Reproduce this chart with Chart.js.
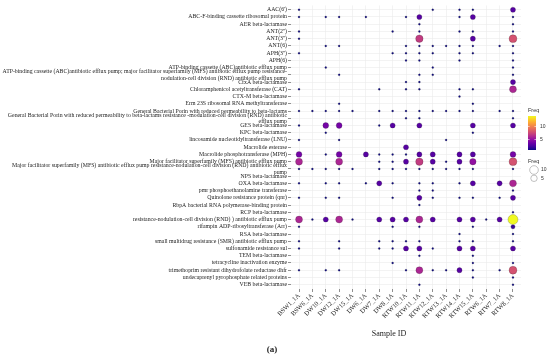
<!DOCTYPE html>
<html>
<head>
<meta charset="utf-8">
<script src="https://cdn.jsdelivr.net/npm/chart.js@4.4.1/dist/chart.umd.min.js"></script>
<style>
  html, body { margin: 0; padding: 0; background: #fff; }
  canvas { display: block; }
</style>
</head>
<body>
<canvas id="chart" width="550" height="359"></canvas>
<script>
const samples = ['BSW1_1A', 'BSW6_1A', 'DW10_1A', 'DW12_1A', 'DW15_1A', 'DW6_1A', 'DW7_1A', 'DW8_1A',
  'RTW10_1A', 'RTW11_1A', 'RTW12_1A', 'RTW13_1A', 'RTW14_1A', 'RTW15_1A', 'RTW6_1A', 'RTW7_1A', 'RTW8_1A'];

const genes = [
  "AAC(6')",
  'ABC-F-binding cassette ribosomal protein',
  'AER beta-lactamase',
  "ANT(2'')",
  "ANT(3'')",
  'ANT(6)',
  "APH(3'')",
  'APH(6)',
  'ATP-binding cassette (ABC)antibiotic efflux pump',
  ['ATP-binding cassette (ABC)antibiotic efflux pump; major facilitator superfamily (MFS) antibiotic efflux pump resistance-',
   'nodulation-cell division (RND) antibiotic efflux pump'],
  'CfxA beta-lactamase',
  'Chloramphenicol acetyltransferase (CAT)',
  'CTX-M beta-lactamase',
  'Erm 23S ribosomal RNA methyltransferase',
  'General Bacterial Porin with reduced permeability to beta-lactams',
  ['General Bacterial Porin with reduced permeability to beta-lactams resistance -modulation-cell division (RND) antibiotic',
   'efflux pump'],
  'GES beta-lactamase',
  'KPC beta-lactamase',
  'lincosamide nucleotidyltransferase (LNU)',
  'Macrolide esterase',
  'Macrolide phosphotransferase (MPH)',
  'Major facilitator superfamily (MFS) antibiotic efflux pump',
  ['Major facilitator superfamily (MFS) antibiotic efflux pump resistance-nodulation-cell division (RND) antibiotic efflux',
   'pump'],
  'NPS beta-lactamase',
  'OXA beta-lactamase',
  'pmr phosphoethanolamine transferase',
  'Quinolone resistance protein (qnr)',
  'RbpA bacterial RNA polymerase-binding protein',
  'RCP beta-lactamase',
  'resistance-nodulation-cell division (RND) ) antibiotic efflux pump',
  'rifampin ADP-ribosyltransferase (Arr)',
  'RSA beta-lactamase',
  'small multidrug resistance (SMR) antibiotic efflux pump',
  'sulfonamide resistance sul',
  'TEM beta-lactamase',
  'tetracycline inactivation enzyme',
  'trimethoprim resistant dihydrofolate reductase dhfr',
  'undecaprenyl pyrophosphate related proteins',
  'VEB beta-lactamase'
];

// Freq for each gene (row) in each sample (column order = samples), 0 = absent
const freq = [
  [1,0,0,0,0,0,0,0,0,0,1,0,1,1,0,0,3],
  [1,0,1,1,0,1,0,0,1,3,0,0,1,3,0,0,1],
  [0,0,0,0,0,0,0,0,0,1,0,0,0,0,0,0,1],
  [1,0,0,0,0,0,0,1,0,1,0,0,1,1,0,0,1],
  [1,0,0,0,0,0,0,0,0,7,0,0,0,3,0,0,8],
  [0,0,1,1,0,0,0,0,1,1,1,1,1,1,0,1,1],
  [1,0,0,0,0,0,0,1,1,1,1,0,1,1,0,0,1],
  [0,0,0,0,0,0,0,0,1,1,0,0,1,0,0,0,1],
  [0,0,1,0,0,0,0,0,0,0,1,0,0,0,0,0,1],
  [0,0,0,1,0,0,0,0,0,1,1,0,0,0,0,0,1],
  [0,0,0,0,0,0,0,0,1,1,0,0,0,0,0,0,3],
  [1,0,0,0,0,0,1,0,1,1,0,0,1,1,0,0,6],
  [0,0,0,0,0,0,0,0,0,0,0,0,1,0,0,0,0],
  [0,0,0,1,0,0,0,0,0,0,0,0,0,1,0,0,0],
  [1,1,1,1,1,0,1,1,1,1,1,1,1,1,0,1,1],
  [0,0,0,0,0,0,0,0,1,1,0,0,0,0,0,0,1],
  [1,0,4,4,0,0,1,3,0,3,0,0,0,3,0,0,3],
  [0,0,1,0,0,0,0,0,0,0,0,0,0,1,0,0,0],
  [1,0,0,1,0,0,0,0,0,0,0,1,0,0,0,0,0],
  [0,0,0,0,0,0,0,0,3,0,0,0,0,0,0,0,0],
  [4,0,1,4,0,3,1,1,1,3,3,0,3,3,0,0,4],
  [6,0,0,6,0,0,1,1,3,7,3,1,3,5,0,0,8],
  [1,1,1,1,1,0,1,1,1,1,1,1,1,1,0,0,1],
  [0,0,0,0,0,0,0,0,0,0,0,0,0,0,0,0,0],
  [1,0,1,1,0,1,3,1,0,1,1,0,1,3,0,3,6],
  [0,0,0,0,0,0,0,0,0,1,1,0,0,0,0,0,1],
  [1,0,1,1,0,0,0,1,0,3,1,0,1,1,0,1,3],
  [0,0,0,0,0,0,0,0,0,1,0,0,0,0,0,0,0],
  [0,0,0,0,0,0,0,0,0,0,0,0,0,0,0,0,1],
  [6,1,3,6,1,0,3,3,3,6,3,0,3,3,1,3,14],
  [1,0,0,0,0,0,0,1,0,1,0,0,0,1,0,0,2],
  [0,0,0,0,0,0,0,0,0,0,0,0,1,0,0,0,1],
  [1,0,0,1,0,0,1,1,1,1,0,0,1,1,0,0,1],
  [1,0,0,1,0,0,1,1,3,3,1,0,3,3,0,0,3],
  [0,0,0,0,0,0,0,0,0,1,0,0,0,1,0,0,0],
  [0,0,0,0,0,0,0,1,0,0,0,0,0,1,0,0,1],
  [1,0,1,1,0,0,0,0,1,6,1,1,3,1,0,1,8],
  [0,0,0,0,0,0,0,0,0,0,0,0,0,1,0,0,1],
  [0,0,0,0,0,0,0,0,0,1,0,0,0,0,0,0,1]
];

const freqMin = 1, freqMax = 14;
const colourTicks = [5, 10];
const sizeBreaks = [10, 5];

const plasma = ['#0d0887', '#41049d', '#6a00a8', '#8f0da4', '#b12a90', '#cc4778',
  '#e16462', '#f2844b', '#fca636', '#fcce25', '#f0f921'];

function hexRgb(h) {
  return [parseInt(h.slice(1, 3), 16), parseInt(h.slice(3, 5), 16), parseInt(h.slice(5, 7), 16)];
}
function plasmaAt(v) {
  const t = Math.min(1, Math.max(0, (v - freqMin) / (freqMax - freqMin))) * (plasma.length - 1);
  const i = Math.min(plasma.length - 2, Math.floor(t));
  const f = t - i;
  const a = hexRgb(plasma[i]), b = hexRgb(plasma[i + 1]);
  const c = a.map((x, k) => Math.round(x + (b[k] - x) * f));
  return `rgb(${c[0]},${c[1]},${c[2]})`;
}
const radiusOf = v => 1 + 4 * Math.sqrt((v - freqMin) / (freqMax - freqMin));

const points = [];
freq.forEach((row, gi) => {
  row.forEach((v, si) => {
    if (v > 0) points.push({ x: si, y: gi, r: radiusOf(v), v });
  });
});

const serif = '"Liberation Serif", "Times New Roman", serif';
const sans = '"Liberation Sans", Arial, sans-serif';

const extras = {
  id: 'extras',
  afterDraw(chart) {
    const c = chart.ctx;
    c.save();
    c.fillStyle = '#222';
    c.textAlign = 'center';
    c.textBaseline = 'middle';
    c.font = `8px ${serif}`;
    c.fillText('Sample ID', 389, 334);
    c.font = `bold 9px ${serif}`;
    c.fillText('(a)', 272, 350);

    // colour bar
    const bx = 528, bw = 8, top = 116, bot = 150;
    const g = c.createLinearGradient(0, bot, 0, top);
    plasma.forEach((col, i) => g.addColorStop(i / (plasma.length - 1), col));
    c.fillStyle = g;
    c.fillRect(bx, top, bw, bot - top);
    c.textAlign = 'left';
    c.fillStyle = '#333';
    c.font = `5.5px ${sans}`;
    c.fillText('Freq', 528, 110);
    c.font = `5px ${sans}`;
    colourTicks.forEach(t => {
      const y = bot - (t - freqMin) / (freqMax - freqMin) * (bot - top);
      c.strokeStyle = '#fff';
      c.lineWidth = 0.6;
      c.beginPath();
      c.moveTo(bx, y); c.lineTo(bx + 1.6, y);
      c.moveTo(bx + bw - 1.6, y); c.lineTo(bx + bw, y);
      c.stroke();
      c.fillText(String(t), 540, y);
    });

    // size legend
    c.font = `5.5px ${sans}`;
    c.fillText('Freq', 528, 161);
    c.font = `5px ${sans}`;
    sizeBreaks.forEach((b, i) => {
      const y = 170 + i * 8.3;
      c.beginPath();
      c.arc(534, y, radiusOf(b), 0, Math.PI * 2);
      c.fillStyle = '#fff';
      c.fill();
      c.strokeStyle = '#999';
      c.lineWidth = 0.6;
      c.stroke();
      c.fillStyle = '#333';
      c.fillText(String(b), 541, y);
    });
    c.restore();
  }
};

new Chart(document.getElementById('chart'), {
  type: 'bubble',
  data: {
    datasets: [{
      label: 'Freq',
      data: points,
      backgroundColor: ctx => plasmaAt(ctx.raw.v),
      borderColor: 'rgba(40,40,40,0.55)',
      borderWidth: 0.4
    }]
  },
  options: {
    responsive: false,
    animation: false,
    events: [],
    devicePixelRatio: 1,
    layout: { padding: { top: 2, right: 29, bottom: 0, left: 0 } },
    plugins: {
      legend: { display: false },
      tooltip: { enabled: false }
    },
    scales: {
      x: {
        type: 'linear',
        min: -0.6,
        max: samples.length - 0.4,
        afterBuildTicks: s => { s.ticks = samples.map((_, i) => ({ value: i })); },
        afterFit: s => { s.height = 70; s.paddingLeft = 0; s.paddingRight = 0; },
        grid: { color: '#ebebeb', lineWidth: 0.6, tickLength: 3, tickColor: '#444', tickWidth: 0.6 },
        border: { display: false },
        ticks: {
          autoSkip: false,
          maxRotation: 45,
          minRotation: 45,
          padding: 0,
          color: '#222',
          font: { family: serif, size: 6.5 },
          callback: v => samples[v]
        }
      },
      y: {
        type: 'linear',
        reverse: true,
        min: -0.6,
        max: genes.length - 0.4,
        afterBuildTicks: s => { s.ticks = genes.map((_, i) => ({ value: i })); },
        afterFit: s => { s.width = 291; s.paddingTop = 0; s.paddingBottom = 0; },
        grid: { color: '#ebebeb', lineWidth: 0.6, tickLength: 3, tickColor: '#444', tickWidth: 0.6 },
        border: { display: false },
        ticks: {
          autoSkip: false,
          padding: 1,
          color: '#222',
          font: { family: serif, size: 5.8, lineHeight: 1.1 },
          callback: v => genes[v]
        }
      }
    }
  },
  plugins: [extras]
});
</script>
</body>
</html>
